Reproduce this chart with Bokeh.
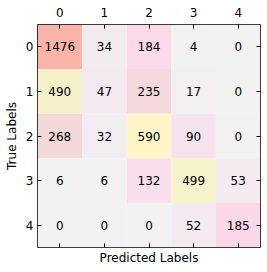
from bokeh.plotting import figure
from bokeh.models import ColumnDataSource, Range1d, LinearAxis, FixedTicker
from bokeh.core.properties import value
from bokeh.embed import file_html
from bokeh.resources import INLINE

labels = [0, 1, 2, 3, 4]
counts = [
    [1476, 34, 184, 4, 0],
    [490, 47, 235, 17, 0],
    [268, 32, 590, 90, 0],
    [6, 6, 132, 499, 53],
    [0, 0, 0, 52, 185],
]
cell_colors = [
    ["#F9B3A9", "#F3ECEF", "#FADAE8", "#F2F1F1", "#F2F2F2"],
    ["#F5F0C9", "#F3EAF0", "#F4D8DE", "#F2EFF0", "#F2F2F2"],
    ["#F2D8D9", "#F2EDF1", "#FCF6C6", "#F5E4EF", "#F2F2F2"],
    ["#F2F2F2", "#F2F2F2", "#F8DFEB", "#F6F2C9", "#F4EAF0"],
    ["#F2F2F2", "#F2F2F2", "#F2F2F2", "#F4EAF0", "#FAD8E8"],
]

xs, ys, vals, cols = [], [], [], []
for i, t in enumerate(labels):
    for j, pr in enumerate(labels):
        xs.append(pr)
        ys.append(t)
        vals.append(str(counts[i][j]))
        cols.append(cell_colors[i][j])
src = ColumnDataSource(dict(x=xs, y=ys, v=vals, c=cols))

FONT = "DejaVu Sans"
p = figure(frame_width=223, frame_height=223, output_backend="svg", toolbar_location=None,
           x_range=Range1d(-0.5, 4.5), y_range=Range1d(4.5, -0.5),
           x_axis_location="above", min_border_left=37, min_border_right=3,
           min_border_top=24, min_border_bottom=19)
p.rect(x="x", y="y", width=1, height=1, source=src, fill_color="c", line_color=None)
p.text(x="x", y="y", text="v", source=src, text_align="center", text_baseline="middle",
       text_font=value(FONT), text_font_size="12px", text_color="black")

p.xgrid.visible = False
p.ygrid.visible = False
p.outline_line_color = "black"
p.outline_line_width = 1
p.outline_line_alpha = 1

ticker = FixedTicker(ticks=labels)

def style(ax, show_labels=True):
    ax.ticker = ticker
    ax.axis_line_color = None
    ax.major_tick_in = 4
    ax.major_tick_out = 0
    ax.minor_tick_line_color = None
    ax.major_tick_line_color = "black"
    ax.major_label_text_font = FONT
    ax.major_label_text_font_size = "12px"
    ax.major_label_text_color = "black"
    ax.major_label_standoff = 4
    ax.axis_label_text_font = FONT
    ax.axis_label_text_font_size = "12px"
    ax.axis_label_text_font_style = "normal"
    ax.axis_label_text_color = "black"
    if not show_labels:
        ax.major_label_overrides = {t: "" for t in labels}
        ax.major_label_text_font_size = "1px"
        ax.major_label_standoff = 0

top = p.xaxis[0]
style(top)
top.major_label_standoff = 8
left = p.yaxis[0]
style(left)
left.axis_label = "True Labels"
left.axis_label_standoff = 4
left.major_label_orientation = "horizontal"

bottom = LinearAxis(axis_label="Predicted Labels")
style(bottom, show_labels=False)
bottom.axis_label_standoff = 3
p.add_layout(bottom, "below")

right = LinearAxis()
style(right, show_labels=False)
p.add_layout(right, "right")

open("out.html", "w").write(file_html(p, INLINE))
